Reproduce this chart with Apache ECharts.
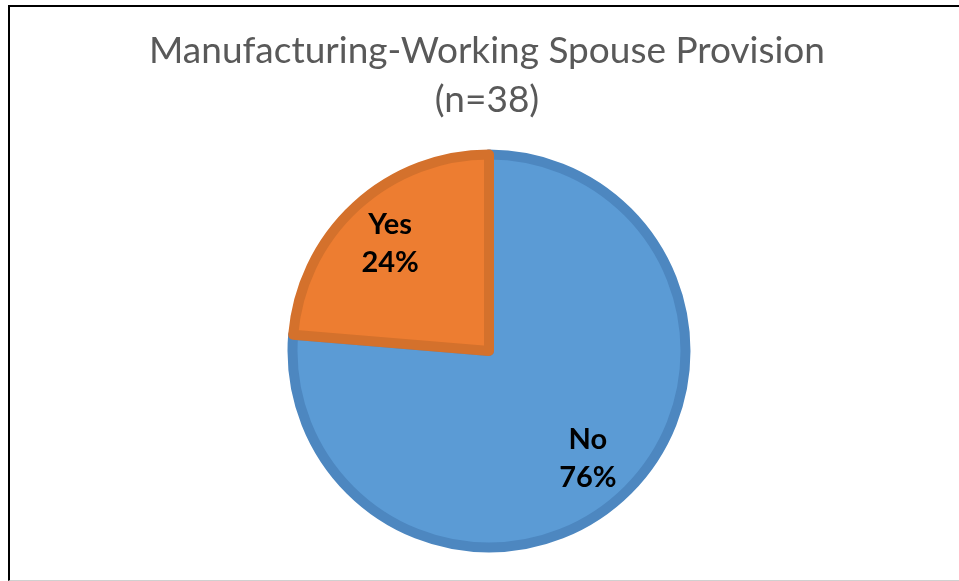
<!DOCTYPE html>
<html>
<head>
<meta charset="utf-8">
<script src="https://cdn.jsdelivr.net/npm/echarts@6/dist/echarts.min.js"></script>
<style>
  html, body { margin: 0; padding: 0; width: 959px; height: 581px; overflow: hidden; background: #fff; }
  #frame { position: absolute; left: 8px; top: 5px; width: 980px; height: 573px;
           border-left: 2px solid #000; border-top: 2px solid #000; border-bottom: 1px solid #d0d0d0; }
  #chart { position: absolute; left: 15px; top: 0; width: 944px; height: 581px; }
</style>
</head>
<body>
<div id="frame"></div>
<div id="chart"></div>
<script>
const titleLines = ['Manufacturing-Working Spouse Provision', '(n=38)'];
const categories = ['No', 'Yes'];
const counts = [29, 9];
const fillColors = ['#5B9BD5', '#ED7D31'];
const borderColors = ['#4D87C0', '#D4712C'];

const total = counts.reduce((a, b) => a + b, 0);
const pieData = categories.map((c, i) => ({
  name: c,
  value: counts[i],
  itemStyle: { color: fillColors[i], borderColor: borderColors[i] }
}));
const labelData = categories.map((c, i) => ({ name: c, value: counts[i] }));

const chart = echarts.init(document.getElementById('chart'));
chart.setOption({
  animation: false,
  title: {
    text: titleLines.join('\n'),
    left: 'center',
    top: 22,
    textStyle: { fontFamily: 'Lato', fontWeight: 'normal', fontSize: 37, lineHeight: 49, color: '#595959' }
  },
  series: [
    {
      type: 'pie',
      center: [474, 351],
      radius: [0, 196.5],
      startAngle: 90,
      clockwise: true,
      silent: true,
      itemStyle: { borderWidth: 10 },
      label: { show: false },
      labelLine: { show: false },
      data: pieData
    },
    {
      type: 'pie',
      center: [474, 351],
      radius: [0, 286],
      startAngle: 90,
      clockwise: true,
      silent: true,
      itemStyle: { color: 'rgba(0,0,0,0)', borderWidth: 0 },
      label: {
        show: true,
        position: 'inside',
        formatter: p => p.name + '\n' + Math.round(p.value / total * 100) + '%',
        fontFamily: 'Lato',
        fontWeight: 'bold',
        fontSize: 29,
        lineHeight: 38,
        color: '#000'
      },
      labelLine: { show: false },
      data: labelData
    }
  ]
});
</script>
</body>
</html>
